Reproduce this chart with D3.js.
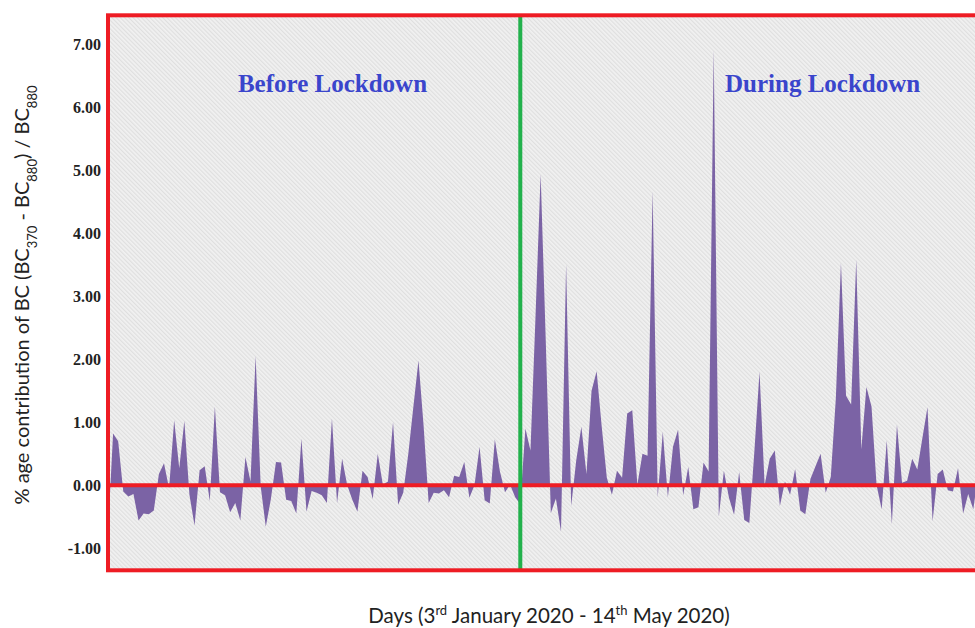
<!DOCTYPE html>
<html>
<head>
<meta charset="utf-8">
<script src="https://cdn.jsdelivr.net/npm/d3@7"></script>
<style>
  html, body { margin: 0; padding: 0; background: #ffffff; }
  svg { display: block; }
</style>
</head>
<body>
<svg id="chart" width="975" height="628"></svg>
<script>
// Daily % age contribution of BC: (BC370 - BC880) / BC880
const contribution = [
  -0.75, 0.82, 0.70, -0.10, -0.18, -0.14, -0.56, -0.45, -0.46, -0.40,
  0.18, 0.35, -0.05, 1.03, 0.27, 1.02, -0.15, -0.64, 0.24, 0.30,
  -0.25, 1.25, -0.11, -0.16, -0.43, -0.28, -0.56, 0.45, 0.06, 2.05,
  -0.02, -0.66, -0.22, 0.37, 0.36, -0.23, -0.25, -0.45, 0.74, -0.42,
  -0.09, -0.12, -0.16, -0.28, 1.06, -0.28, 0.42, 0.00, -0.23, -0.42,
  0.23, 0.13, -0.22, 0.50, 0.01, 0.06, 1.00, -0.31, -0.12, 0.50,
  1.25, 1.98, 0.95, -0.28, -0.12, -0.13, -0.08, -0.19, 0.15, 0.13,
  0.37, -0.20, 0.00, 0.61, -0.24, -0.29, 0.73, 0.22, -0.11, 0.01,
  -0.19, -0.30, 0.90, 0.55, 2.70, 4.94, 2.30, -0.44, -0.21, -0.74,
  3.51, -0.33, 0.40, 0.93, 0.18, 1.50, 1.81, 0.93, 0.12, -0.15,
  0.23, 0.12, 1.14, 1.19, 0.01, 0.50, 0.47, 4.67, -0.19, 0.85,
  -0.19, 0.61, 0.88, -0.16, 0.29, -0.38, -0.35, 0.36, 0.22, 6.92,
  -0.50, 0.23, -0.20, -0.47, 0.21, -0.55, -0.60, 0.55, 1.80, 0.00,
  0.42, 0.55, -0.33, 0.06, -0.15, 0.26, -0.40, -0.46, 0.10, 0.30,
  0.50, -0.12, 0.13, 1.39, 3.53, 1.42, 1.28, 3.58, 0.57, 1.56,
  1.25, 0.00, -0.38, 0.71, -0.62, 0.96, 0.04, 0.07, 0.42, 0.25,
  0.75, 1.24, -0.57, 0.18, 0.25, -0.08, -0.10, 0.27, -0.45, -0.14,
  -0.38, 0.20
];
const lockdownDay = 81;
const yTicks = [-1, 0, 1, 2, 3, 4, 5, 6, 7];
const yDomain = [-1.35, 7.46];
const periodLabels = ["Before Lockdown", "During Lockdown"];
const periodCentres = [44.1, 140.4];

const svg = d3.select("#chart");
const frame = { left: 108, top: 15.3, right: 990, bottom: 570.3 };

const x = d3.scaleLinear()
  .domain([0, contribution.length - 1])
  .range([108, 108 + (contribution.length - 1) * 5.09]);
const y = d3.scaleLinear().domain(yDomain).range([frame.bottom, frame.top]);

const defs = svg.append("defs");
const pat = defs.append("pattern")
  .attr("id", "hatch")
  .attr("patternUnits", "userSpaceOnUse")
  .attr("width", 3).attr("height", 3)
  .attr("patternTransform", "rotate(-45)");
pat.append("rect").attr("width", 3).attr("height", 3).attr("fill", "#f1f1f1");
pat.append("rect").attr("width", 1.2).attr("height", 3).attr("fill", "#dfdfdf");

defs.append("clipPath").attr("id", "plotClip")
  .append("rect")
  .attr("x", frame.left).attr("y", frame.top)
  .attr("width", frame.right - frame.left)
  .attr("height", frame.bottom - frame.top);

// plot background
svg.append("rect")
  .attr("x", frame.left).attr("y", frame.top)
  .attr("width", frame.right - frame.left)
  .attr("height", frame.bottom - frame.top)
  .attr("fill", "url(#hatch)");

// area of the series around zero
const area = d3.area()
  .x((d, i) => x(i))
  .y0(y(0))
  .y1(d => y(d));

svg.append("g").attr("clip-path", "url(#plotClip)")
  .append("path")
  .datum(contribution)
  .attr("d", area)
  .attr("fill", "#7b63a5");

// zero reference line
svg.append("line")
  .attr("x1", frame.left).attr("x2", frame.right)
  .attr("y1", y(0)).attr("y2", y(0))
  .attr("stroke", "#ee1c24").attr("stroke-width", 4);

// lockdown marker
svg.append("line")
  .attr("x1", x(lockdownDay)).attr("x2", x(lockdownDay))
  .attr("y1", frame.top).attr("y2", frame.bottom)
  .attr("stroke", "#22b14c").attr("stroke-width", 4);

// outer frame
svg.append("rect")
  .attr("x", frame.left).attr("y", frame.top)
  .attr("width", frame.right - frame.left)
  .attr("height", frame.bottom - frame.top)
  .attr("fill", "none")
  .attr("stroke", "#ee1c24").attr("stroke-width", 4);

// y axis labels
const yAxis = svg.append("g")
  .attr("transform", `translate(${frame.left - 2},0)`)
  .call(d3.axisLeft(y).tickValues(yTicks).tickFormat(d => d.toFixed(2)).tickSize(0).tickPadding(5));
yAxis.select(".domain").remove();
yAxis.selectAll("text")
  .attr("font-family", "'Liberation Serif', 'DejaVu Serif', serif")
  .attr("font-weight", "bold")
  .attr("font-size", 16)
  .attr("fill", "#222");

// period labels
svg.selectAll("text.period")
  .data(periodLabels)
  .join("text")
  .attr("class", "period")
  .attr("x", (d, i) => x(periodCentres[i]))
  .attr("y", 92)
  .attr("text-anchor", "middle")
  .attr("font-family", "'Liberation Serif', 'DejaVu Serif', serif")
  .attr("font-weight", "bold")
  .attr("font-size", 25)
  .attr("fill", "#3a45cc")
  .text(d => d);

// y axis title
const yTitle = svg.append("text")
  .attr("transform", "translate(29,295) rotate(-90)")
  .attr("text-anchor", "middle")
  .attr("font-family", "Lato, 'Open Sans', sans-serif")
  .attr("font-size", 20)
  .attr("fill", "#222");
const yParts = [
  ["% age contribution of BC (BC", false], ["370", true], [" - BC", false],
  ["880", true], [") / BC", false], ["880", true]
];
yParts.forEach(([t, sub]) => {
  const ts = yTitle.append("tspan").text(t);
  if (sub) ts.attr("baseline-shift", "sub").attr("font-size", 13);
});

// x axis title
const xTitle = svg.append("text")
  .attr("x", 549).attr("y", 623)
  .attr("text-anchor", "middle")
  .attr("font-family", "Lato, 'Open Sans', sans-serif")
  .attr("font-size", 20.5)
  .attr("fill", "#222");
const xParts = [
  ["Days (3", false], ["rd", true], [" January 2020 - 14", false],
  ["th", true], [" May 2020)", false]
];
xParts.forEach(([t, sup]) => {
  const ts = xTitle.append("tspan").text(t);
  if (sup) ts.attr("baseline-shift", "super").attr("font-size", 13);
});
</script>
</body>
</html>
